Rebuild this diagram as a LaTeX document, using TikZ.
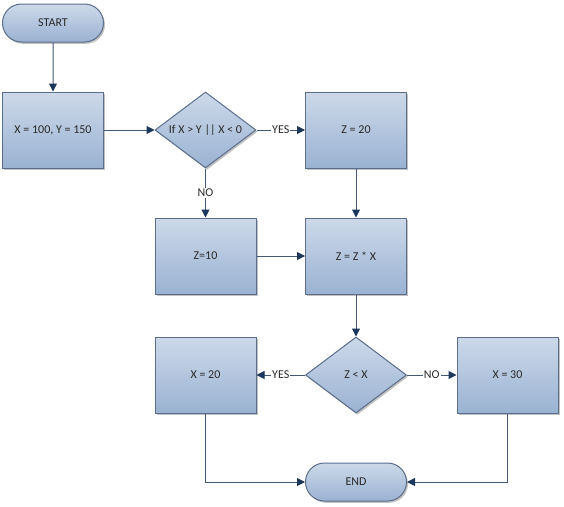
\documentclass[tikz,border=0pt]{standalone}
\usepackage{fontspec}
\setmainfont{Carlito}
\usetikzlibrary{shapes.geometric,shapes.misc,arrows.meta,shadows}
\definecolor{boxtop}{HTML}{CDD9EA}
\definecolor{boxbot}{HTML}{9AB2D2}
\definecolor{boxline}{HTML}{5A6E8C}
\definecolor{lineclr}{HTML}{455873}
\definecolor{tipclr}{HTML}{1C375C}
\definecolor{txt}{HTML}{2A2A2A}
\begin{document}
\begin{tikzpicture}[x=1pt,y=-1pt,
 base/.style={draw=boxline, line width=1pt, top color=boxtop, bottom color=boxbot, text=txt,
   font=\fontsize{12}{14}\selectfont,
   drop shadow={shadow xshift=1.5pt, shadow yshift=-1.8pt, fill=black!40, opacity=0.6}},
 procbox/.style={base, rectangle, minimum width=101pt, minimum height=76pt, inner sep=0pt},
 term/.style={base, rounded rectangle, minimum width=101pt, minimum height=38pt, inner sep=0pt},
 decision/.style={base, diamond, aspect=1.34, minimum width=101pt, minimum height=76pt, inner sep=0pt},
 conn/.style={draw=lineclr, line width=1pt, -{Triangle[length=8pt,width=8pt,color=tipclr]}},
 lbl/.style={fill=white, inner sep=1pt, text=txt, font=\fontsize{12}{14}\selectfont}
]
\useasboundingbox[fill=white] (0,0) rectangle (564,506);
\node[term] (start) at (53,23) {START};
\node[procbox] (init) at (53,130) {X = 100, Y = 150};
\node[decision] (d1) at (205.5,130) {If X > Y || X < 0};
\node[procbox] (z20) at (356,130) {Z = 20};
\node[procbox] (z10) at (205.5,256) {Z=10};
\node[procbox] (zzx) at (356,256) {Z = Z * X};
\node[decision] (d2) at (356,375) {Z < X};
\node[procbox] (x20) at (205.5,375) {X = 20};
\node[procbox] (x30) at (507.5,375) {X = 30};
\node[term] (end) at (356,482) {END};

\draw[conn] (start) -- (init);
\draw[conn] (init) -- (d1);
\draw[conn] (d1) -- node[lbl]{YES} (z20);
\draw[conn] (d1) -- node[lbl]{NO} (z10);
\draw[conn] (z20) -- (zzx);
\draw[conn] (z10) -- (zzx);
\draw[conn] (zzx) -- (d2);
\draw[conn] (d2) -- node[lbl]{YES} (x20);
\draw[conn] (d2) -- node[lbl]{NO} (x30);
\draw[conn] (x20) |- (end);
\draw[conn] (x30) |- (end);
\end{tikzpicture}
\end{document}
